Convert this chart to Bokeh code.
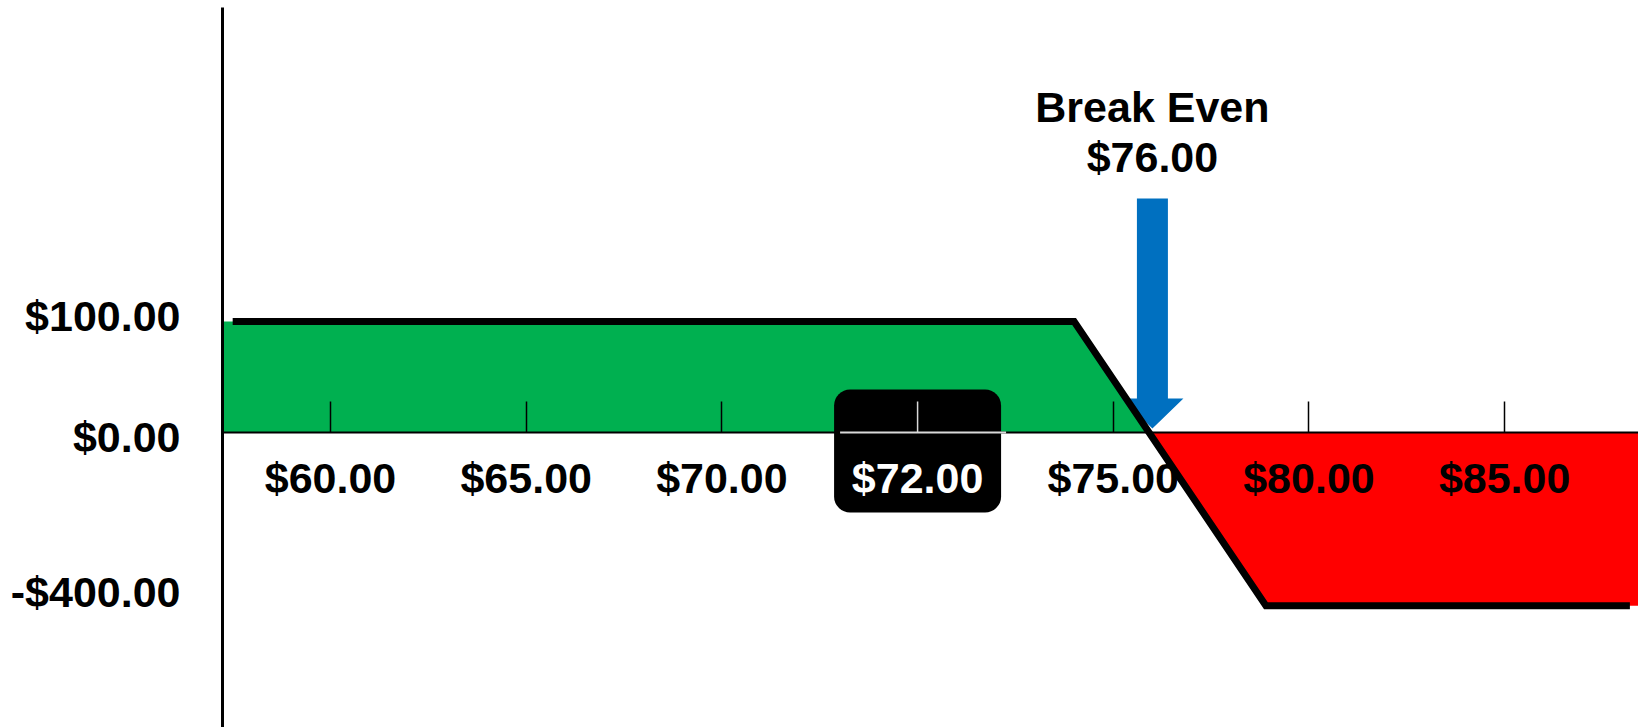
import numpy as np
from bokeh.plotting import figure
from bokeh.models import Range1d, LinearAxis, FixedTicker
from bokeh.core.properties import value
from bokeh.embed import file_html
from bokeh.resources import INLINE

# ---------------- data ----------------
tick_prices = [60, 65, 70, 72, 75, 80, 85]
tick_labels = ["$60.00", "$65.00", "$70.00", "$72.00", "$75.00", "$80.00", "$85.00"]
highlight_price = 72
pnl_ticks = [100, 0, -400]
pnl_labels = ["$100.00", "$0.00", "-$400.00"]
payoff_prices = [57.5, 74.4, 78.9, 88.2]
payoff_pnl = [100, 100, -400, -400]
profit_prices = [55.0, 55.0, 74.4, 76.0]
profit_pnl = [0, 100, 100, 0]
loss_prices = [76.0, 90.0, 90.0, 78.9]
loss_pnl = [0, 0, -400, -400]
break_even = 76.00
break_even_label = ["Break Even", "$76.00"]

# ---------------- schematic scales (tick-to-tick spacing is uniform) ----------------
idx = np.arange(len(tick_prices), dtype=float)


def sx(p):
    p = np.asarray(p, dtype=float)
    x = np.interp(p, tick_prices, idx)
    x = np.where(p < tick_prices[0], (p - tick_prices[0]) / (tick_prices[1] - tick_prices[0]), x)
    x = np.where(p > tick_prices[-1], idx[-1] + (p - tick_prices[-1]) / (tick_prices[-1] - tick_prices[-2]), x)
    return x


LOSS_SPAN = 1.56  # display height of the max-loss level relative to the max-gain level


def sy(v):
    v = np.asarray(v, dtype=float)
    return np.where(v >= 0, v / 100.0, v * LOSS_SPAN / 400.0)


FONT = "Liberation Sans"
FS = "43px"
W, H = 1638, 727
X0, X1 = -0.552, 6.684
Y0, Y1 = -2.658, 3.829
PX_X = (W - 222) / (X1 - X0)
PX_Y = (H - 7) / (Y1 - Y0)

p = figure(width=W, height=H, output_backend="svg", toolbar_location=None,
           x_range=Range1d(X0, X1), y_range=Range1d(Y0, Y1),
           x_axis_type=None, y_axis_type=None,
           min_border_left=222, min_border_right=0, min_border_top=7, min_border_bottom=0)
p.outline_line_color = None
p.background_fill_color = "white"
p.border_fill_color = "white"

# fills
p.patch(sx(profit_prices), sy(profit_pnl), fill_color="#00B050", line_color=None)
p.patch(sx(loss_prices), sy(loss_pnl), fill_color="#FF0000", line_color=None)

# highlighted price box
hx = float(sx(highlight_price))
box_hw = 83.5 / PX_X
p.quad(left=[hx - box_hw], right=[hx + box_hw], top=[43 / PX_Y], bottom=[-80 / PX_Y],
       fill_color="black", line_color=None, border_radius=16)
p.segment(x0=[hx - box_hw + 6 / PX_X], x1=[hx + box_hw + 5 / PX_X], y0=[0], y1=[0],
          line_color="#d9d9d9", line_width=2, level="overlay")
p.segment(x0=[hx], x1=[hx], y0=[0], y1=[31 / PX_Y], line_color="#d9d9d9", line_width=1.5,
          level="overlay")
p.text(x=[hx], y=[0], text=[tick_labels[tick_prices.index(highlight_price)]],
       text_color="white", text_font=value(FONT), text_font_style="bold", text_font_size=FS,
       text_align="center", text_baseline="middle", y_offset=46, level="overlay")

# break-even arrow
bx = float(sx(break_even))
top = 234 / PX_Y
tip = 4 / PX_Y
shw, hhw, hl = 15.5 / PX_X, 31 / PX_X, 30 / PX_Y
ax_pts = [bx - shw, bx + shw, bx + shw, bx + hhw, bx, bx - hhw, bx - shw]
ay_pts = [top, top, tip + hl, tip + hl, tip, tip + hl, tip + hl]
p.patch(ax_pts, ay_pts, fill_color="#0070C0", line_color=None)
p.text(x=[bx, bx], y=[top, top], text=break_even_label, y_offset=[-91, -41],
       text_color="black", text_font=value(FONT), text_font_style="bold", text_font_size=FS,
       text_align="center", text_baseline="middle")

# payoff line
p.line(sx(payoff_prices), sy(payoff_pnl), line_color="black", line_width=7, line_join="miter")

# axes
xt = [float(v) for v in sx(tick_prices)]
xover = {t: (lab if pr != highlight_price else "") for t, lab, pr in zip(xt, tick_labels, tick_prices)}
xaxis = LinearAxis(fixed_location=0, ticker=FixedTicker(ticks=xt), major_label_overrides=xover,
                   major_tick_in=31, major_tick_out=0, major_tick_line_width=1.5,
                   major_tick_line_color="black", minor_tick_in=0, minor_tick_out=0,
                   axis_line_width=2, axis_line_color="black", major_label_standoff=22,
                   major_label_text_font=FONT, major_label_text_font_style="bold",
                   major_label_text_font_size=FS, major_label_text_color="black")
p.add_layout(xaxis, "below")

# y labels sit slightly off their levels, as in the hand-placed original
label_nudge_px = [5.5, -4.6, 14.0]
yt = [float(v + d / PX_Y) for v, d in zip(sy(pnl_ticks), label_nudge_px)]
yover = dict(zip(yt, pnl_labels))
yaxis = LinearAxis(ticker=FixedTicker(ticks=yt), major_label_overrides=yover,
                   major_tick_in=0, major_tick_out=0, minor_tick_in=0, minor_tick_out=0,
                   axis_line_width=3, axis_line_color="black", major_label_standoff=42,
                   major_label_text_font=FONT, major_label_text_font_style="bold",
                   major_label_text_font_size=FS, major_label_text_color="black")
p.add_layout(yaxis, "left")

open("out.html", "w").write(file_html(p, INLINE))
